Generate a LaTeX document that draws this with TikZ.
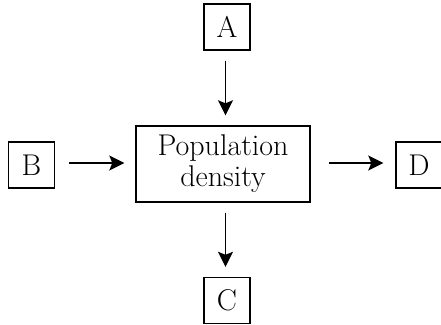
\documentclass[tikz,border=0pt]{standalone}
\usetikzlibrary{positioning,arrows.meta}

\begin{document}
\begin{tikzpicture}[
  x=0.5pt, y=-0.5pt,
  box/.style ={draw, line width=0.7pt, minimum width=23pt, minimum height=23pt, inner sep=0pt},
  main/.style={draw, line width=0.7pt, minimum width=87pt, minimum height=38pt, align=center, inner sep=0pt},
  flow/.style={line width=0.7pt, -{Stealth[length=7.5pt,width=7.5pt,inset=1.5pt]}},
  every node/.style={font=\fontsize{15}{15.5}\selectfont},
]
\useasboundingbox (0,0) rectangle (441,325);
\node[main] (pd) at (223,164) {Population\\density};
\node[box] (A) at (227,27) {A};
\node[box] (B) at (31.5,165) {B};
\node[box] (C) at (227,300.5) {C};
\node[box] (D) at (419,165) {D};
% arrows into and out of the middle box
\draw[flow, shorten <=5pt, shorten >=5pt] (A.south -| 225.5,0) -- (pd.north -| 225.5,0);
\draw[flow, shorten <=7pt, shorten >=5.5pt] (B.east |- 0,163) -- (pd.west |- 0,163);
\draw[flow, shorten <=9pt, shorten >=6pt] (pd.east |- 0,163) -- (D.west |- 0,163);
\draw[flow, shorten <=5pt, shorten >=5pt] (pd.south -| 225.5,0) -- (C.north -| 225.5,0);
\end{tikzpicture}
\end{document}
